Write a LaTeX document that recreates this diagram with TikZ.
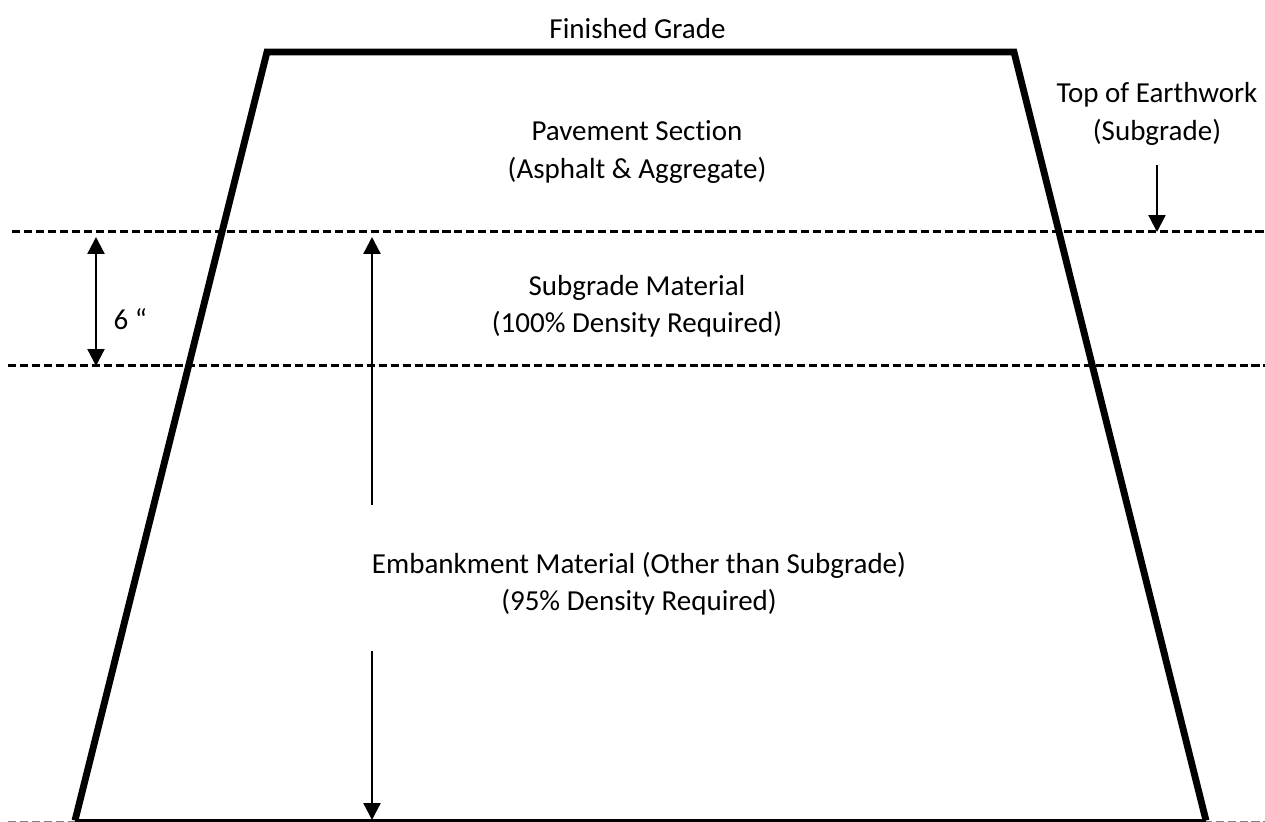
\documentclass[tikz,border=0pt]{standalone}
\usepackage{fontspec}
\setmainfont{Carlito}[Ligatures=NoCommon]
\usetikzlibrary{arrows.meta}

\tikzset{
    label/.style={align=center,inner sep=0pt,font=\fontsize{8.25}{10.65}\selectfont},
    grade/.style={line width=1.95pt,line join=miter},
    level/.style={line width=0.85pt,dash pattern=on 2.3pt off 1.1pt},
    dim/.style={line width=0.65pt,-{Triangle[width=4.8pt,length=4.8pt]}},
}

\begin{document}
\begin{tikzpicture}[x=0.01cm,y=-0.01cm]
        \useasboundingbox (0,0) rectangle (1265,822);

        % levels
        \coordinate (subL) at (12,232);
        \coordinate (subR) at (1265,232);
        \coordinate (embL) at (8,366);
        \coordinate (embR) at (1265,366);
        \draw[level] (subL) -- (subR);
        \draw[level] (embL) -- (embR);

        % fill line along the bottom
        \coordinate (toeLL) at (8,821.5);
        \coordinate (toeRR) at (1265,821.5);
        \draw[level,color=gray,line width=0.35pt] (toeLL) -- (toeRR);

        % section
        \coordinate (toeL) at (75,820.5);
        \coordinate (crestL) at (267,52);
        \coordinate (crestR) at (1014,52);
        \coordinate (toeR) at (1206,820.5);
        \draw[grade] (toeL) -- (crestL) -- (crestR) -- (toeR);
        \draw[line width=0.9pt] (toeL) -- (toeR);

        \node[label] (finished) at (637.5,29) {Finished Grade};
        \node[label] (earthwork) at (1157,114) {Top of Earthwork\\(Subgrade)};
        \node[label] (pavement) at (637,152) {Pavement Section\\(Asphalt \& Aggregate)};
        \node[label] (subgrade) at (637,306) {Subgrade Material\\(100\% Density Required)};
        \node[label] (embankment) at (639,584) {Embankment Material (Other than Subgrade)\\(95\% Density Required)};
        \node[label,anchor=west] (six) at (113,319) {6 “};

        % dimensions
        \coordinate (sixT) at (96,237);
        \coordinate (sixB) at (96,366);
        \coordinate (depthT) at (372,237);
        \coordinate (depthA) at (372,505);
        \coordinate (depthB) at (372,651);
        \coordinate (depthC) at (372,820);
        \coordinate (topA) at (1157,165);
        \coordinate (topB) at (1157,232);
        \draw[dim,{Triangle[width=4.8pt,length=4.8pt]}-{Triangle[width=4.8pt,length=4.8pt]}] (sixT) -- (sixB);
        \draw[dim] (depthA) -- (depthT);
        \draw[dim] (depthB) -- (depthC);
        \draw[dim] (topA) -- (topB);
\end{tikzpicture}
\end{document}
